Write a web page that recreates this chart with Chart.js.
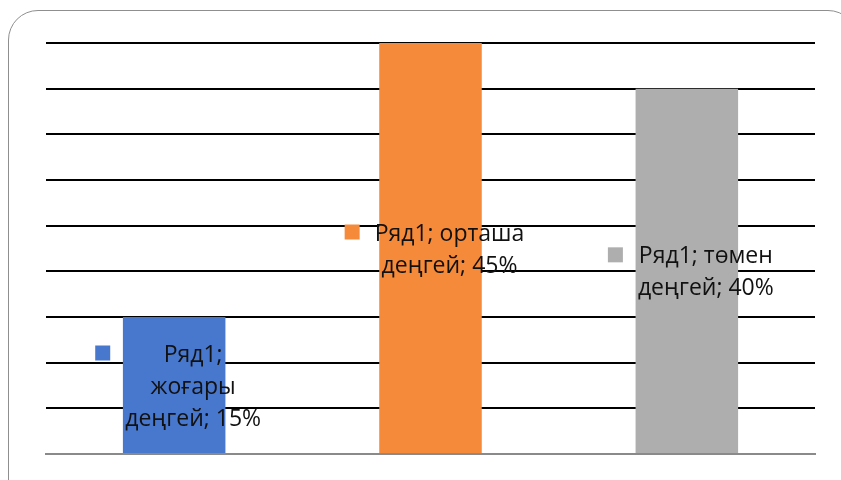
<!DOCTYPE html>
<html>
<head>
<meta charset="utf-8">
<script src="https://cdn.jsdelivr.net/npm/chart.js@4/dist/chart.umd.min.js"></script>
<style>
  html, body { margin: 0; padding: 0; background: #ffffff; }
  #wrap { position: relative; width: 841px; height: 480px; overflow: hidden; }
  #frame {
    position: absolute; left: 8px; top: 10px; width: 850px; height: 520px;
    border: 1.5px solid #8f8f8f; border-radius: 30px; box-sizing: border-box;
  }
  #c { position: absolute; left: 0; top: 0; }
</style>
</head>
<body>
<div id="wrap">
  <div id="frame"></div>
  <canvas id="c" width="841" height="480"></canvas>
</div>
<script>
// Survey levels and their shares (%)
const seriesName = 'Ряд1';
const categories = ['жоғары деңгей', 'орташа деңгей', 'төмен деңгей'];
const values = [15, 45, 40];
const barColors = ['#4878CD', '#F58A3A', '#AEAEAE'];
// widest line allowed in each data label before it wraps
const labelWrap = [145, 165, 165];

const LABEL_FONT = '23px "Open Sans", "Noto Sans", sans-serif';
const LINE_H = 32;
const KEY = 15, KEY_GAP = 15;

function wrapWords(ctx, text, maxW) {
  const words = text.split(' ');
  const lines = [];
  let cur = '';
  for (const w of words) {
    const t = cur ? cur + ' ' + w : w;
    if (cur && ctx.measureText(t).width > maxW) { lines.push(cur); cur = w; }
    else cur = t;
  }
  if (cur) lines.push(cur);
  return lines;
}

// Data labels: colour key on the left, centred text lines beside it
const keyLabels = {
  id: 'keyLabels',
  afterDatasetsDraw(chart) {
    const ctx = chart.ctx;
    const meta = chart.getDatasetMeta(0);
    ctx.save();
    ctx.font = LABEL_FONT;
    ctx.textBaseline = 'middle';
    ctx.textAlign = 'center';
    meta.data.forEach((bar, i) => {
      const v = chart.data.datasets[0].data[i];
      const text = seriesName + '; ' + chart.data.labels[i] + '; ' + v + '%';
      const lines = wrapWords(ctx, text, labelWrap[i]);
      const textW = Math.max(...lines.map(l => ctx.measureText(l).width));
      const blockW = KEY + KEY_GAP + textW;
      const cy = (bar.y + bar.base) / 2;
      const left = bar.x + 4 - blockW / 2;
      const top = cy - lines.length * LINE_H / 2;
      ctx.fillStyle = barColors[i];
      ctx.fillRect(left, top + LINE_H / 2 - KEY / 2, KEY, KEY);
      ctx.fillStyle = '#111111';
      const tx = left + KEY + KEY_GAP + textW / 2;
      lines.forEach((l, k) => ctx.fillText(l, tx, top + 2 + LINE_H * (k + 0.5)));
    });
    ctx.restore();
  }
};

new Chart(document.getElementById('c'), {
  type: 'bar',
  data: {
    labels: categories,
    datasets: [{
      label: seriesName,
      data: values,
      backgroundColor: barColors,
      borderWidth: 0,
      categoryPercentage: 1,
      barPercentage: 0.4
    }]
  },
  options: {
    responsive: false,
    animation: false,
    devicePixelRatio: 1,
    layout: { padding: { left: 46, right: 26, top: 43, bottom: 26 } },
    plugins: { legend: { display: false }, tooltip: { enabled: false } },
    scales: {
      x: {
        z: 1,
        grid: { display: false, drawTicks: false },
        ticks: { display: false },
        border: { display: true, color: '#8a8a8a', width: 2 }
      },
      y: {
        min: 0, max: 45,
        ticks: { display: false, stepSize: 5 },
        grid: {
          drawTicks: false,
          lineWidth: 2,
          color: c => c.tick && c.tick.value === 0 ? 'rgba(0,0,0,0)' : '#000000'
        },
        border: { display: false }
      }
    }
  },
  plugins: [keyLabels]
});
</script>
</body>
</html>
